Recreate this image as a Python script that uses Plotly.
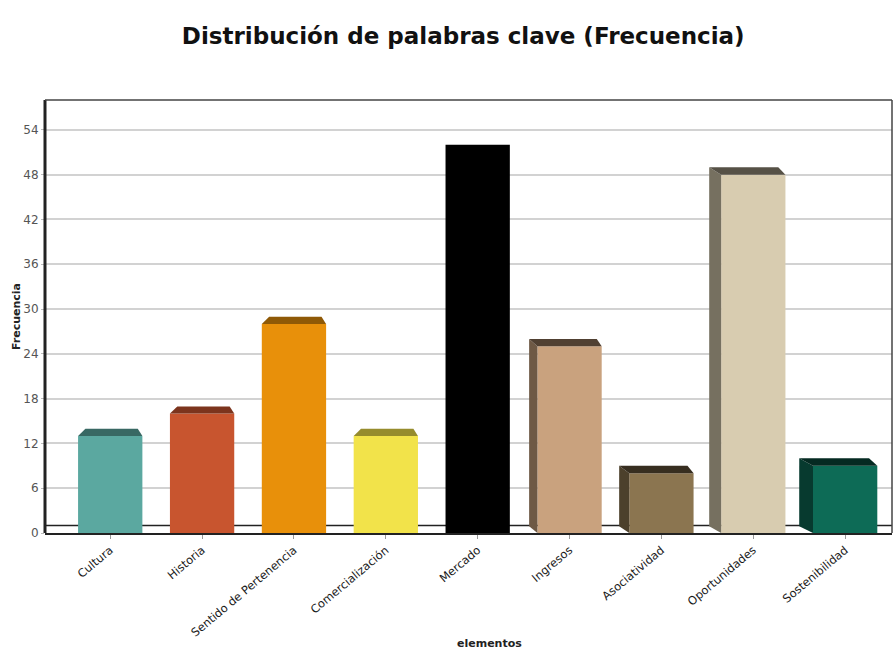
import plotly.graph_objects as go

# Keyword frequency data
categorias = ["Cultura", "Historia", "Sentido de Pertenencia", "Comercialización",
              "Mercado", "Ingresos", "Asociatividad", "Oportunidades", "Sostenibilidad"]
frecuencias = [13, 16, 28, 13, 52, 25, 8, 48, 9]
colores = ["#5BA8A0", "#C8552F", "#E8900A", "#F2E34A", "#000000",
           "#C9A27E", "#8B7550", "#D8CCB0", "#0D6B56"]
ticks_y = [0, 6, 12, 18, 24, 30, 36, 42, 48, 54]


def oscurecer(hex_color, f=0.6):
    h = hex_color.lstrip("#")
    r, g, b = (int(h[k:k + 2], 16) for k in (0, 2, 4))
    return "#%02x%02x%02x" % (int(r * f), int(g * f), int(b * f))


x_idx = list(range(len(categorias)))
ancho = 0.70
centro = (len(categorias) - 1) / 2

fig = go.Figure()

# Back floor line
fig.add_shape(type="line", xref="paper", yref="y", x0=0, x1=1, y0=1.0, y1=1.0,
              line=dict(color="#222222", width=1.5), layer="below")

# Front faces of the bars
fig.add_trace(go.Bar(
    x=x_idx, y=frecuencias, width=ancho,
    marker=dict(color=colores, line=dict(width=0)),
    hovertext=categorias, hoverinfo="text+y", showlegend=False,
))

# Simple 3D caps and side faces derived from each bar's value
for i, (v, c) in enumerate(zip(frecuencias, colores)):
    izq, der = i - ancho / 2, i + ancho / 2
    if i < centro:
        # top cap seen from above
        px = [izq, der, der - 0.05, izq + 0.08, izq]
        py = [v, v, v + 0.95, v + 0.95, v]
        fig.add_trace(go.Scatter(x=px, y=py, fill="toself", mode="lines",
                                 fillcolor=oscurecer(c, 0.62), line=dict(width=0),
                                 hoverinfo="skip", showlegend=False))
    elif i > centro:
        dx = 0.07 + 0.02 * (i - centro)
        dy = 1.0
        # left side face
        px = [izq, izq, izq - dx, izq - dx, izq]
        py = [0, v, v + dy, 0.9, 0]
        fig.add_trace(go.Scatter(x=px, y=py, fill="toself", mode="lines",
                                 fillcolor=oscurecer(c, 0.55), line=dict(width=0),
                                 hoverinfo="skip", showlegend=False))
        # top face
        px = [izq, der, der - dx * 0.6, izq - dx, izq]
        py = [v, v, v + dy, v + dy, v]
        fig.add_trace(go.Scatter(x=px, y=py, fill="toself", mode="lines",
                                 fillcolor=oscurecer(c, 0.4), line=dict(width=0),
                                 hoverinfo="skip", showlegend=False))

# Chart frame
fig.add_shape(type="line", xref="paper", yref="paper", x0=0, x1=0, y0=0, y1=1,
              line=dict(color="#222222", width=3))
fig.add_shape(type="line", xref="paper", yref="paper", x0=0, x1=1, y0=1, y1=1,
              line=dict(color="#444444", width=1.5))
fig.add_shape(type="line", xref="paper", yref="paper", x0=1, x1=1, y0=0, y1=1,
              line=dict(color="#444444", width=1.5))

# X-axis title placed under the rotated tick labels
fig.add_annotation(text="<b>elementos</b>", xref="paper", yref="paper",
                   x=0.525, y=-0.255, xanchor="center", yanchor="middle",
                   showarrow=False, font=dict(size=11, color="#222222"))

fig.update_layout(
    width=896, height=652,
    margin=dict(l=45, r=4, t=100, b=119),
    paper_bgcolor="white", plot_bgcolor="white",
    font=dict(family="DejaVu Sans", color="#222222"),
    title=dict(text="<b>Distribución de palabras clave (Frecuencia)</b>",
               x=0.517, xanchor="center", y=0.945, yanchor="middle",
               font=dict(size=23, color="#111111", family="DejaVu Sans")),
    xaxis=dict(
        range=[-0.71, 8.51], tickmode="array", tickvals=x_idx, ticktext=categorias,
        tickangle=-40, tickfont=dict(size=11.5, color="#1a1a1a"),
        ticks="outside", ticklen=4, tickcolor="#999999",
        showgrid=False, zeroline=False, automargin=False,
        showline=True, linecolor="#222222", linewidth=2,
    ),
    yaxis=dict(
        range=[0, 58], tickmode="array", tickvals=ticks_y,
        tickfont=dict(size=12, color="#555555"),
        ticks="outside", ticklen=3, tickcolor="#BBBBBB",
        showgrid=True, gridcolor="#D2D2D2", gridwidth=1.5,
        zeroline=False, showline=False, automargin=False,
        title=dict(text="<b>Frecuencia</b>", font=dict(size=11, color="#222222"),
                   standoff=0),
    ),
    bargap=0.3,
)

fig.write_html("out.html")
